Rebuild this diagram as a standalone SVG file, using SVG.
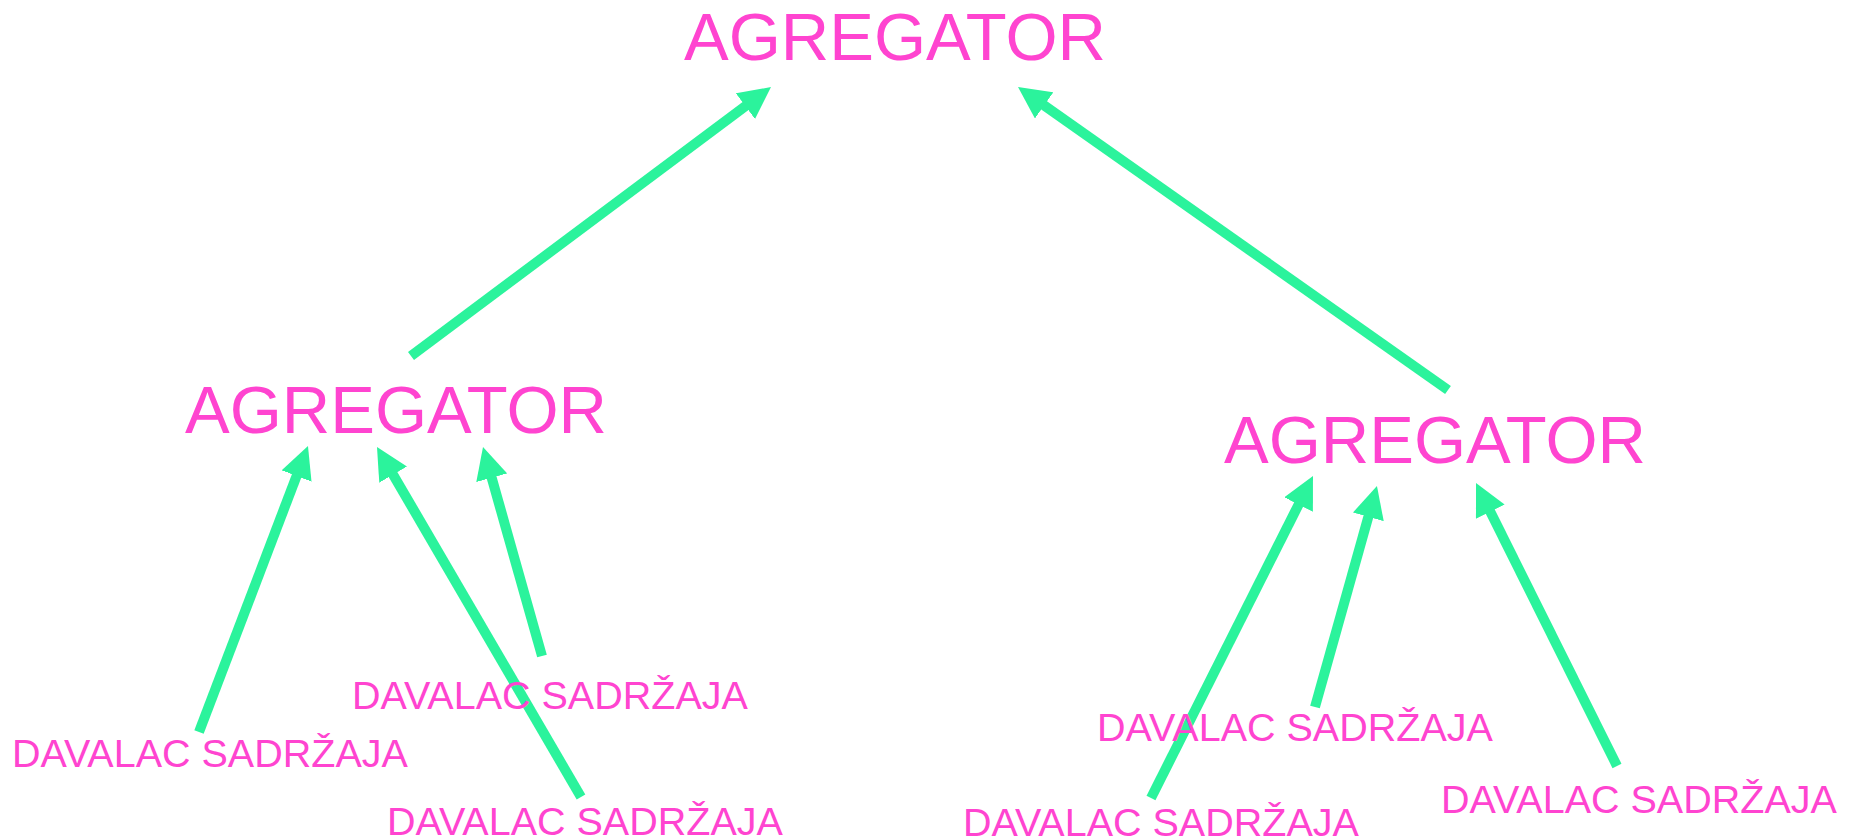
<svg xmlns="http://www.w3.org/2000/svg" width="1860" height="840" viewBox="0 0 1860 840">
<style>
.agg{font-family:"Liberation Sans",Arial,sans-serif;font-size:67px;fill:#ff44d0}
.dav{font-family:"Liberation Sans",Arial,sans-serif;font-size:39.5px;fill:#ff44d0}
.edge{stroke:#2bf39c;stroke-width:10;fill:none;marker-end:url(#ah)}
</style>
<defs>
<marker id="ah" markerUnits="userSpaceOnUse" markerWidth="32" markerHeight="32" viewBox="0 0 32 32" refX="4" refY="16" orient="auto">
<path d="M0,0 L32,16 L0,32 z" fill="#2bf39c"/>
</marker>
</defs>
<rect width="1860" height="840" fill="#ffffff"/>
<g id="connectors">
<line class="edge" x1="411" y1="356" x2="748.6" y2="103.8"/>
<line class="edge" x1="1448" y1="390" x2="1040.9" y2="103.1"/>
<line class="edge" x1="199" y1="732" x2="298" y2="472.2"/>
<line class="edge" x1="581" y1="797" x2="391.1" y2="471.2"/>
<line class="edge" x1="542" y1="656" x2="490.6" y2="473.9"/>
<line class="edge" x1="1151" y1="798" x2="1300.4" y2="501"/>
<line class="edge" x1="1315" y1="707" x2="1369.4" y2="513"/>
<line class="edge" x1="1617" y1="766" x2="1488.5" y2="508.1"/>
</g>
<g id="agg-top"><text class="agg" x="684" y="60">AGREGATOR</text></g>
<g id="agg-left"><text class="agg" x="185" y="433">AGREGATOR</text></g>
<g id="agg-right"><text class="agg" x="1224" y="463">AGREGATOR</text></g>
<g id="dav-1"><text class="dav" x="12" y="767">DAVALAC SADRŽAJA</text></g>
<g id="dav-2"><text class="dav" x="352" y="709">DAVALAC SADRŽAJA</text></g>
<g id="dav-3"><text class="dav" x="387" y="835">DAVALAC SADRŽAJA</text></g>
<g id="dav-4"><text class="dav" x="1097" y="741">DAVALAC SADRŽAJA</text></g>
<g id="dav-5"><text class="dav" x="963" y="836">DAVALAC SADRŽAJA</text></g>
<g id="dav-6"><text class="dav" x="1441" y="813">DAVALAC SADRŽAJA</text></g>
</svg>
